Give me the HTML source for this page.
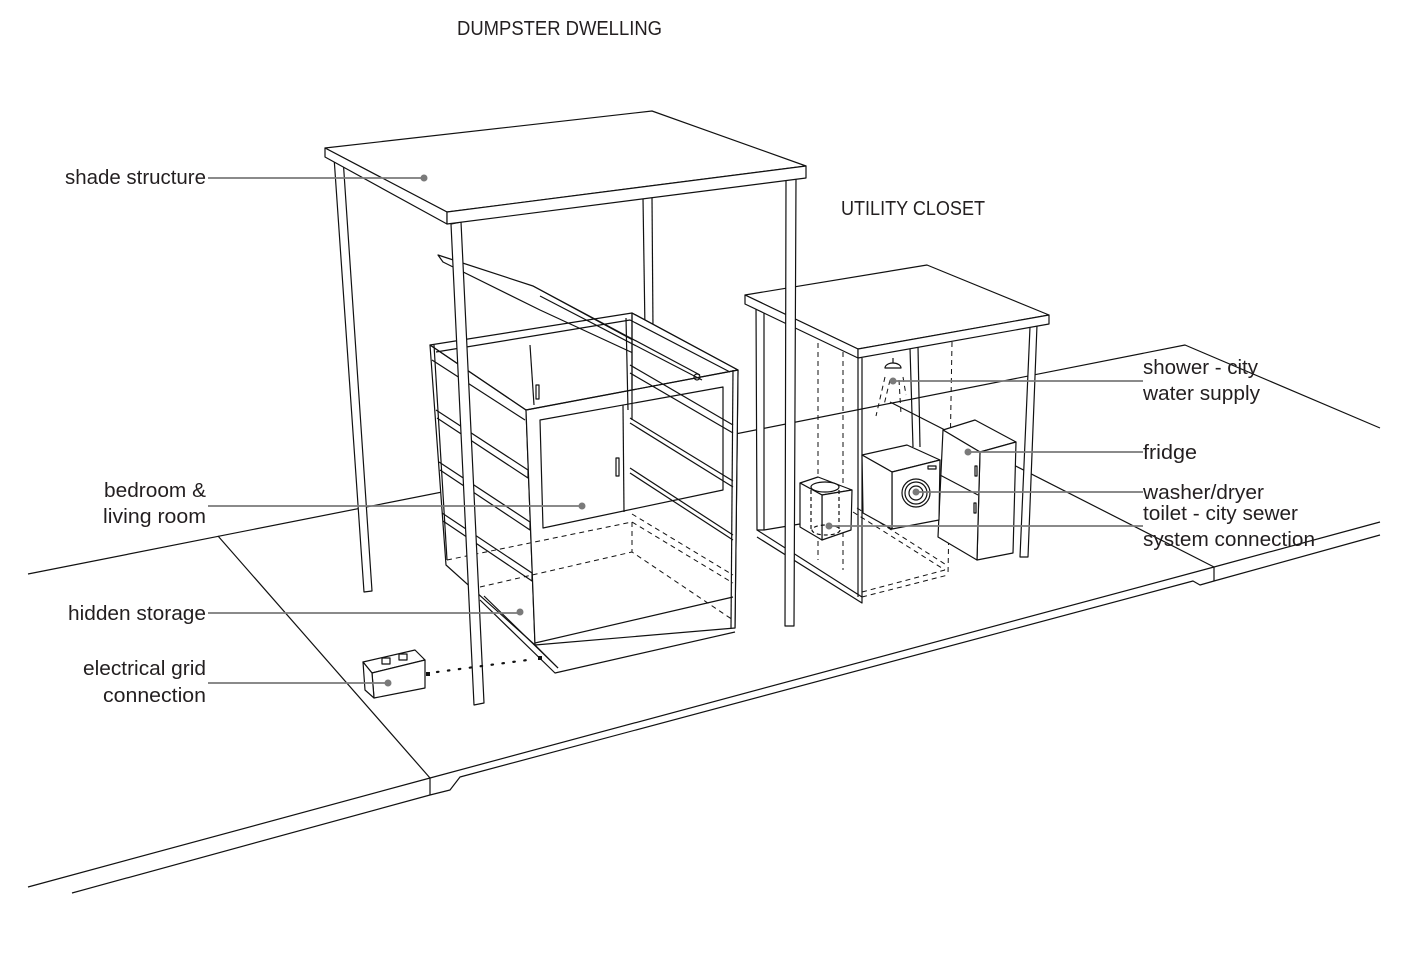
<!DOCTYPE html>
<html><head><meta charset="utf-8"><style>
html,body{margin:0;padding:0;background:#fff;}
svg{display:block;}
text{font-family:"Liberation Sans",sans-serif;font-size:20px;fill:#231f20;}
</style></head><body>
<svg width="1415" height="967" viewBox="0 0 1415 967" xmlns="http://www.w3.org/2000/svg">
<g fill="none" stroke="#111" stroke-width="1.2" stroke-linejoin="round">
<!-- ground -->
<polyline points="28,574 1185,345 1380,428"/>
<line x1="218" y1="536" x2="430" y2="778"/>
<line x1="890" y1="402" x2="1214" y2="567"/>
<polyline points="28,887 430,778 1214,567 1380,522"/>
<polyline points="72,893 430,795 450,790 460,777 1193,581 1200,585 1214,581 1380,535"/>
<line x1="430" y1="778" x2="430" y2="795"/>
<line x1="1214" y1="567" x2="1214" y2="581"/>

<!-- shade structure legs back -->
<polygon points="334,157 364,592 372,591 343,158" fill="#fff"/>
<line x1="643" y1="198" x2="645" y2="330"/>
<line x1="652" y1="197" x2="653" y2="330"/>
<!-- dumpster -->
<g fill="#fff">
<polygon points="438,255 533,286 703,378 698,383 540,310 443,262"/>
<polygon points="430,345 526,410 535,645 446,565"/>
<polygon points="632,313 738,370 735,628 632,552"/>
<polygon points="526,410 738,370 735,628 535,645"/>
</g>
<polygon points="430,345 632,313 738,370 526,410"/>
<polyline points="436,352 630,320 730,372"/>
<line x1="632" y1="313" x2="632" y2="420"/>
<line x1="626" y1="318" x2="628" y2="410"/>
<line x1="530" y1="345" x2="534" y2="405"/>
<rect x="536" y="385" width="3" height="14"/>
<polyline points="533,286 700,375"/>
<polyline points="540,296 702,380"/>
<circle cx="697" cy="377" r="3"/>
<polygon points="540,420 723,387 723,490 543,528"/>
<line x1="623" y1="405" x2="624" y2="512"/>
<rect x="616" y="458" width="3" height="18"/>
<polyline points="432,360 525,420"/>
<polyline points="436,410 528,470 528,478 437,418"/>
<polyline points="439,462 530,522 530,530 440,470"/>
<polyline points="442,513 532,573 532,581 443,521"/>
<line x1="434" y1="345" x2="447" y2="560"/>
<polyline points="630,373 733,433"/>
<polyline points="630,365 733,425"/>
<polyline points="630,423 733,487"/>
<polyline points="630,418 733,481"/>
<polyline points="630,473 733,540"/>
<polyline points="630,468 733,535"/>
<line x1="733" y1="370" x2="731" y2="628"/>
<line x1="535" y1="643" x2="733" y2="597"/>
<polyline points="480,600 555,673 735,632"/>
<polyline points="484,596 558,668"/>
<polyline points="535,645 558,668"/>
<g stroke-dasharray="5,4" stroke-width="1">
<polyline points="447,560 632,522 733,583"/>
<polyline points="480,587 632,552 733,620"/>
<polyline points="632,522 632,552"/>
<polyline points="632,514 733,575"/>
</g>
<!-- shade front-left leg -->
<polygon points="451,224 474,705 484,703 461,222" fill="#fff"/>

<!-- utility closet -->
<polygon points="756,305 757,530 764,530 764,305" fill="#fff"/>
<polyline points="757,530 862,597 862,603 757,537"/>
<polyline points="764,530 800,524"/>
<line x1="910" y1="348" x2="913" y2="447"/>
<line x1="918" y1="347" x2="920" y2="447"/>
<polygon points="1030,327 1020,557 1028,557 1037,325" fill="#fff"/>
<line x1="862" y1="358" x2="862" y2="597"/>
<line x1="858" y1="358" x2="858" y2="597"/>
<g stroke-dasharray="5,4" stroke-width="1">
<line x1="818" y1="343" x2="818" y2="560"/>
<line x1="843" y1="352" x2="843" y2="570"/>
<line x1="952" y1="342" x2="948" y2="575"/>
<polyline points="862,597 948,575"/>
<polyline points="862,592 945,570"/>
<polyline points="853,512 945,570"/>
<polyline points="857,508 948,566"/>
<line x1="885" y1="377" x2="876" y2="416"/>
<line x1="890" y1="380" x2="884" y2="405"/>
<line x1="899" y1="380" x2="901" y2="414"/>
<line x1="903" y1="377" x2="906" y2="395"/>
</g>
<line x1="893" y1="358" x2="893" y2="363"/>
<path d="M885,368 A8,5 0 0 1 901,368 Z" fill="#fff"/>
<polygon points="745,295 927,265 1049,315 858,349" fill="#fff"/>
<polygon points="745,295 858,349 858,358 745,304" fill="#fff"/>
<polygon points="858,349 1049,315 1049,324 858,358" fill="#fff"/>
<!-- fridge -->
<polygon points="943,430 975,420 1016,442 980,452" fill="#fff"/>
<polygon points="980,452 1016,442 1013,553 977,560" fill="#fff"/>
<polygon points="943,430 980,452 977,560 938,537" fill="#fff"/>
<line x1="978" y1="495" x2="940" y2="475"/>
<rect x="975" y="466" width="2" height="10"/>
<rect x="974" y="503" width="2" height="10"/>
<!-- washer -->
<polygon points="862,455 907,445 940,460 892,472" fill="#fff"/>
<polygon points="892,472 940,460 939,520 892,529" fill="#fff"/>
<polygon points="862,455 892,472 892,529 863,513" fill="#fff"/>
<circle cx="916" cy="493" r="14"/>
<circle cx="916" cy="493" r="11"/>
<circle cx="916" cy="493" r="7"/>
<rect x="928" y="466" width="8" height="3"/>
<!-- toilet -->
<polygon points="800,483 818,477 852,490 822,495" fill="#fff"/>
<polygon points="822,495 852,490 851,530 822,540" fill="#fff"/>
<polygon points="800,483 822,495 822,540 800,527" fill="#fff"/>
<ellipse cx="825" cy="487" rx="14" ry="5"/>
<ellipse cx="826" cy="530" rx="14" ry="5" stroke-dasharray="4,3"/>
<line x1="811" y1="490" x2="811" y2="530" stroke-dasharray="4,3"/>
<line x1="839" y1="490" x2="839" y2="530" stroke-dasharray="4,3"/>

<!-- shade front-right leg (in front of closet) -->
<polygon points="786,180 785,626 794,626 796,178" fill="#fff"/>
<!-- shade roof -->
<polygon points="325,148 652,111 806,166 447,212" fill="#fff"/>
<polygon points="325,148 447,212 447,224 325,157" fill="#fff"/>
<polygon points="447,212 806,166 806,178 447,224" fill="#fff"/>

<!-- electrical box -->
<polygon points="363,662 415,650 425,660 372,673" fill="#fff"/>
<polygon points="372,673 425,660 425,688 374,698" fill="#fff"/>
<polygon points="363,662 372,673 374,698 365,690" fill="#fff"/>
<rect x="382" y="658" width="8" height="6"/>
<rect x="399" y="654" width="8" height="6"/>
</g>
<rect x="426" y="672" width="4" height="4" fill="#111"/>
<rect x="538" y="656" width="4" height="4" fill="#111"/>
<line x1="437" y1="672" x2="535" y2="659" stroke="#111" stroke-width="2.2" stroke-dasharray="1.5,9.5" stroke-linecap="round"/>

<!-- leaders -->
<g stroke="#7a7a7a" stroke-width="1.8" fill="#7a7a7a">
<line x1="208" y1="178" x2="424" y2="178"/><circle cx="424" cy="178" r="3.5" stroke="none"/>
<line x1="208" y1="506" x2="582" y2="506"/><circle cx="582" cy="506" r="3.5" stroke="none"/>
<line x1="208" y1="613" x2="520" y2="613"/><circle cx="520" cy="612" r="3.5" stroke="none"/>
<line x1="208" y1="683" x2="388" y2="683"/><circle cx="388" cy="683" r="3.5" stroke="none"/>
<line x1="893" y1="381" x2="1143" y2="381"/><circle cx="893" cy="381" r="3.5" stroke="none"/>
<line x1="968" y1="452" x2="1143" y2="452"/><circle cx="968" cy="452" r="3.5" stroke="none"/>
<line x1="916" y1="492" x2="1143" y2="492"/><circle cx="916" cy="492" r="3.5" stroke="none"/>
<line x1="829" y1="526" x2="1143" y2="526"/><circle cx="829" cy="526" r="3.5" stroke="none"/>
</g>

<!-- text -->
<text x="457" y="35" textLength="205" lengthAdjust="spacingAndGlyphs">DUMPSTER DWELLING</text>
<text x="841" y="215" textLength="144" lengthAdjust="spacingAndGlyphs">UTILITY CLOSET</text>
<text x="65" y="184" textLength="141" lengthAdjust="spacingAndGlyphs">shade structure</text>
<text x="104" y="497" textLength="102" lengthAdjust="spacingAndGlyphs">bedroom &amp;</text>
<text x="103" y="523" textLength="103" lengthAdjust="spacingAndGlyphs">living room</text>
<text x="68" y="620" textLength="138" lengthAdjust="spacingAndGlyphs">hidden storage</text>
<text x="83" y="675" textLength="123" lengthAdjust="spacingAndGlyphs">electrical grid</text>
<text x="103" y="702" textLength="103" lengthAdjust="spacingAndGlyphs">connection</text>
<text x="1143" y="374" textLength="115" lengthAdjust="spacingAndGlyphs">shower - city</text>
<text x="1143" y="400" textLength="117" lengthAdjust="spacingAndGlyphs">water supply</text>
<text x="1143" y="459" textLength="54" lengthAdjust="spacingAndGlyphs">fridge</text>
<text x="1143" y="499" textLength="121" lengthAdjust="spacingAndGlyphs">washer/dryer</text>
<text x="1143" y="520" textLength="155" lengthAdjust="spacingAndGlyphs">toilet - city sewer</text>
<text x="1143" y="546" textLength="172" lengthAdjust="spacingAndGlyphs">system connection</text>
</svg>
</body></html>
